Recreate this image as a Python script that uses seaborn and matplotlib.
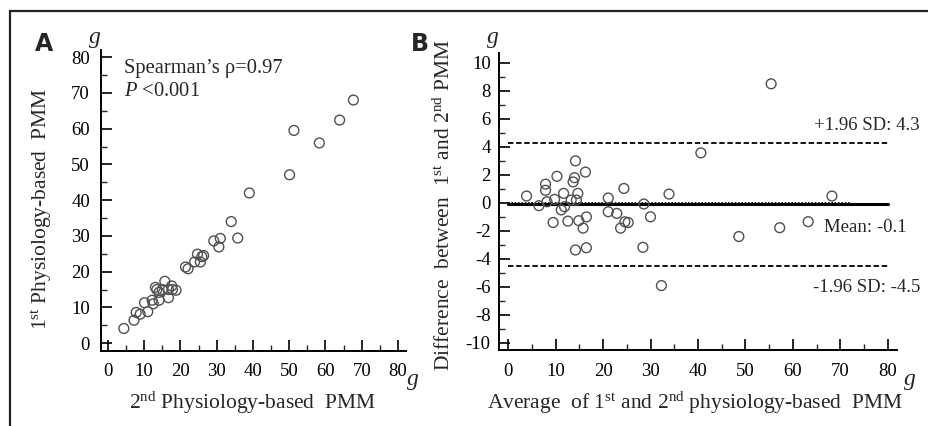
import matplotlib
matplotlib.use("Agg")
import matplotlib.pyplot as plt
import seaborn as sns
import numpy as np
import pandas as pd
from matplotlib.ticker import MultipleLocator
from matplotlib.patches import Rectangle

# ---- data: panel A (2nd vs 1st physiology-based PMM, g)
a_second = [4.4, 7.2, 7.8, 8.9, 10.1, 11.0, 12.2, 12.5, 13.1, 13.5, 14.1, 14.1, 15.0, 15.7,
            16.7, 16.7, 17.6, 17.8, 18.8, 21.4, 22.1, 23.9, 24.7, 25.5, 25.9, 26.4, 29.2,
            30.6, 31.0, 34.0, 35.8, 39.0, 50.1, 51.3, 58.3, 63.9, 67.7]
a_first = [4.1, 6.4, 8.6, 8.1, 11.3, 8.8, 12.0, 11.0, 15.6, 15.0, 14.2, 12.0, 15.0, 17.3,
           12.7, 15.0, 16.0, 15.0, 14.8, 21.3, 20.8, 22.7, 24.9, 22.7, 24.2, 24.5, 28.6,
           26.9, 29.3, 34.0, 29.4, 42.0, 47.1, 59.5, 56.0, 62.4, 68.0]

# ---- data: panel B (Bland-Altman)
b_avg = [3.9, 6.5, 7.9, 7.9, 8.2, 9.5, 9.8, 10.3, 11.2, 11.7, 11.9, 12.6, 13.3, 13.7, 14.0,
         14.2, 14.2, 14.4, 14.7, 14.9, 15.8, 16.3, 16.5, 16.5, 21.1, 21.1, 22.9, 23.7, 24.4,
         24.6, 25.3, 28.4, 28.6, 30.0, 32.3, 33.9, 40.6, 48.6, 55.4, 57.2, 63.2, 68.2]
b_diff = [0.49, -0.2, 1.34, 0.9, 0.08, -1.4, 0.25, 1.9, -0.5, 0.68, -0.27, -1.3, 0.2, 1.5, 1.8,
          3.0, -3.36, 0.2, 0.68, -1.27, -1.8, 2.2, -1.0, -3.2, 0.35, -0.63, -0.75, -1.8, 1.03,
          -1.35, -1.4, -3.17, -0.08, -0.99, -5.9, 0.63, 3.57, -2.4, 8.5, -1.77, -1.34, 0.49]
mean_diff = -0.1
upper_loa = 4.3
lower_loa = -4.5

sns.set_style("ticks")
plt.rcParams['font.family'] = ['Liberation Serif', 'DejaVu Serif']
plt.rcParams['mathtext.fontset'] = 'custom'
plt.rcParams['mathtext.rm'] = 'Liberation Serif'
plt.rcParams['mathtext.it'] = 'Liberation Serif:italic'
plt.rcParams['axes.unicode_minus'] = False

W, H = 929, 426
fig = plt.figure(figsize=(W / 100, H / 100), dpi=100)

def fx(px):
    return px / W

def fy(py):
    return 1 - py / H

axA = fig.add_axes([fx(101), fy(351), fx(406) - fx(101), fy(50) - fy(351)])
axB = fig.add_axes([fx(499), fy(350), fx(897) - fx(499), fy(53) - fy(350)])

dfA = pd.DataFrame({"x": a_second, "y": a_first})
dfB = pd.DataFrame({"x": b_avg, "y": b_diff})

mk = dict(s=50, facecolor="none", edgecolor="#505050", linewidth=1.0, marker="o")

sns.scatterplot(data=dfA, x="x", y="y", ax=axA, **mk)
sns.scatterplot(data=dfB, x="x", y="y", ax=axB, **mk, zorder=3)

for ax in (axA, axB):
    sns.despine(ax=ax)
    for s in ("left", "bottom"):
        ax.spines[s].set_linewidth(1.4)
        ax.spines[s].set_color("black")
    ax.tick_params(which="major", direction="in", length=8, width=1.2, labelsize=13.5,
                   colors="black", pad=6)
    ax.tick_params(which="minor", direction="in", length=4.5, width=1.0)
    ax.tick_params(axis="x", which="major", pad=9)
    ax.set_xlabel("")
    ax.set_ylabel("")
axA.tick_params(axis="y", which="major", pad=8)

axA.set_xlim(-1.9, 82.2)
axA.set_ylim(-2.2, 82)
axA.xaxis.set_major_locator(MultipleLocator(10))
axA.xaxis.set_minor_locator(MultipleLocator(5))
axA.yaxis.set_major_locator(MultipleLocator(10))
axA.yaxis.set_minor_locator(MultipleLocator(5))

axB.set_xlim(-1.9, 81.9)
axB.set_ylim(-10.5, 10.7)
axB.xaxis.set_major_locator(MultipleLocator(10))
axB.xaxis.set_minor_locator(MultipleLocator(5))
axB.yaxis.set_major_locator(MultipleLocator(2))
axB.yaxis.set_minor_locator(MultipleLocator(1))

# Bland-Altman lines
axB.plot([0, 80], [upper_loa, upper_loa], color="black", lw=1.3, ls=(0, (3, 1.5)), zorder=2)
axB.plot([0, 80], [lower_loa, lower_loa], color="black", lw=1.3, ls=(0, (3, 1.5)), zorder=2)
axB.plot([0, 72], [0, 0], color="black", lw=1.2, ls=(0, (1, 1)), zorder=2)
axB.plot([0, 80], [mean_diff, mean_diff], color="black", lw=2.2, zorder=2)

# labels
lab = 15.5
fig.text(fx(252), fy(403), r"2$^{\mathrm{nd}}$ Physiology-based  PMM", ha="center", va="center", fontsize=lab)
fig.text(fx(42), fy(209), r"1$^{\mathrm{st}}$ Physiology-based  PMM", ha="center", va="center",
         fontsize=lab, rotation=90)
fig.text(fx(695), fy(403), r"Average  of 1$^{\mathrm{st}}$ and 2$^{\mathrm{nd}}$ physiology-based  PMM",
         ha="center", va="center", fontsize=lab)
fig.text(fx(444), fy(205), r"Difference  between  1$^{\mathrm{st}}$ and 2$^{\mathrm{nd}}$ PMM",
         ha="center", va="center", fontsize=lab, rotation=90)

# unit labels
for (x, y) in [(95, 37), (413, 380), (493, 37), (910, 380)]:
    fig.text(fx(x), fy(y), "g", style="italic", fontsize=17, ha="center", va="center")

# panel letters
fig.text(fx(44), fy(44), "A", fontsize=17, fontweight="bold", family="DejaVu Sans",
         ha="center", va="center")
fig.text(fx(420), fy(44), "B", fontsize=17, fontweight="bold", family="DejaVu Sans",
         ha="center", va="center")

# stats text
fig.text(fx(124), fy(68), "Spearman\u2019s \u03c1=0.97", fontsize=14.8, ha="left", va="center")
fig.text(fx(124), fy(92), r"$P$ <0.001", fontsize=14.8, ha="left", va="center")

# B annotations
fig.text(fx(920), fy(125), "+1.96 SD: 4.3", fontsize=13.5, ha="right", va="center")
fig.text(fx(907), fy(227), "Mean: -0.1", fontsize=13.5, ha="right", va="center")
fig.text(fx(920), fy(287), "-1.96 SD: -4.5", fontsize=13.5, ha="right", va="center")

# frame
fig.patches.append(Rectangle((fx(10), fy(440)), 1.2, fy(11) - fy(440), transform=fig.transFigure,
                             fill=False, edgecolor="#222222", linewidth=1.6))

fig.savefig("out.png", dpi=100)
